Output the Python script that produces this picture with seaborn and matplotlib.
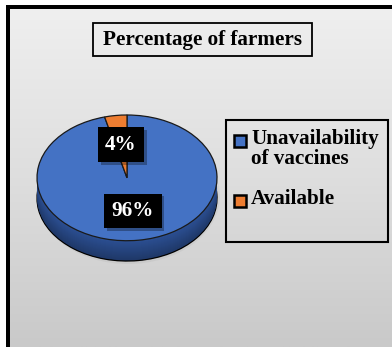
import numpy as np
import matplotlib
matplotlib.use("Agg")
import matplotlib.pyplot as plt
import seaborn as sns
from matplotlib.patches import Rectangle, Ellipse
from matplotlib.colors import LinearSegmentedColormap, to_rgb
import matplotlib.patheffects as pe

# Survey result: share of farmers by vaccine availability
categories = ["Unavailability\nof vaccines", "Available"]
shares = [96, 4]
slice_colors = ["#4472C4", "#ED7D31"]
side_colors = ["#2C5094", "#B05A1E"]
title_text = "Percentage of farmers"

sns.set_theme(style="white")
plt.rcParams["font.family"] = ["Liberation Serif", "DejaVu Serif"]
FS = 15.2

W, H = 392, 347
fig = plt.figure(figsize=(W / 100, H / 100), dpi=100)
fig.patch.set_facecolor("white")

# Background layer in pixel coordinates
bg = fig.add_axes([0, 0, 1, 1])
bg.axis("off")
bg.add_patch(Rectangle((6, 5), W, H, facecolor="black", edgecolor="none", zorder=0))
grad = np.linspace(0, 1, 256)[:, None]
cmap = LinearSegmentedColormap.from_list("panel", ["#efefef", "#dedede", "#c9c9c9"])
bg.imshow(grad, extent=(10, W, H, 9), cmap=cmap, aspect="auto", zorder=1)
bg.set_xlim(0, W)
bg.set_ylim(H, 0)

# soft drop shadow under the pie
for k, a in enumerate([0.04, 0.05, 0.06]):
    bg.add_patch(Ellipse((128, 196), 184 - 4 * k, 136 - 4 * k,
                         facecolor="black", alpha=a, edgecolor="none", zorder=2))

# Title box
bg.add_patch(Rectangle((93, 23), 219, 33, facecolor="none", edgecolor="black",
                       linewidth=1.3, zorder=3))
bg.text(202.5, 40, title_text, ha="center", va="center", fontsize=FS,
        fontweight="bold", color="black", zorder=4)

# Legend frame and entries
bg.add_patch(Rectangle((226, 120), 162, 122, facecolor="none", edgecolor="black",
                       linewidth=1.5, zorder=3))
legend_rows = [141, 201]
for lab, col, yc in zip(categories, slice_colors, legend_rows):
    bg.add_patch(Rectangle((234, yc - 6), 12, 12, facecolor=col, edgecolor="black",
                           linewidth=1.8, zorder=4))
    bg.text(251, yc - 12.5, lab, ha="left", va="top", fontsize=FS, fontweight="bold",
            color="black", linespacing=1.05, zorder=4)

# Pie axes: stretched so the disc becomes a tilted ellipse
px0, px1, py_top, py_bot = 37, 217, 115, 261
depth = 20 / 62.0
pax = fig.add_axes([px0 / W, (H - py_bot) / H, (px1 - px0) / W, (py_bot - py_top) / H])
pax.patch.set_alpha(0)

# side wall built from stacked copies of the pie
n_layers = 20
for k in range(n_layers, 0, -1):
    off = depth * k / n_layers
    t = k / n_layers
    cols = [tuple(np.array(to_rgb(c)) * (1 - 0.3 * t)) for c in side_colors]
    edge = "black" if k == n_layers else "none"
    pax.pie(shares, colors=cols, startangle=90, counterclock=False,
            center=(0, -off), radius=1,
            wedgeprops=dict(linewidth=0.9 if k == n_layers else 0, edgecolor=edge))

wedges, texts, autotexts = pax.pie(
    shares, colors=slice_colors, startangle=90, counterclock=False,
    center=(0, 0), radius=1,
    autopct=lambda p: f"{p:.0f}%", pctdistance=0.53,
    wedgeprops=dict(linewidth=0.9, edgecolor="#1a1a1a"),
    textprops=dict(color="white", fontsize=FS, fontweight="bold"))
for at in autotexts:
    at.set_bbox(dict(boxstyle="square,pad=0.35", facecolor="black", edgecolor="none"))
    at.get_bbox_patch().set_path_effects(
        [pe.SimplePatchShadow(offset=(2, -2), alpha=0.3), pe.Normal()])

pax.set_aspect("auto")
pax.set_xlim(-1, 1)
pax.set_ylim(-1 - depth, 1)
pax.axis("off")

fig.savefig("out.png", dpi=100)
